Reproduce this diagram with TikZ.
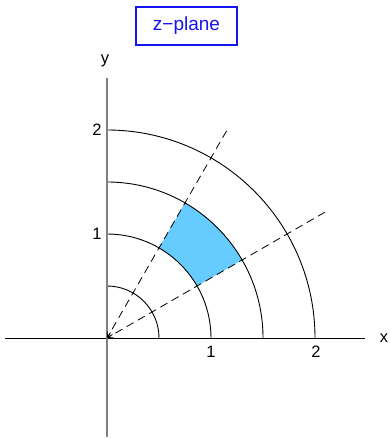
\documentclass[tikz,border=0pt]{standalone}
\usepackage{fontspec}
\setmainfont{Liberation Sans}
\usetikzlibrary{arrows.meta}
\definecolor{zfill}{RGB}{102,204,255}
\definecolor{zblue}{RGB}{20,20,240}
\definecolor{axgray}{RGB}{128,128,128}
\tikzset{
  circarc/.style={draw=black, line width=0.9pt},
  raydash/.style={draw=black, line width=0.8pt, dash pattern=on 8pt off 5pt, -{Straight Barb[length=5pt,width=6pt]}},
  ticklbl/.style={font=\fontsize{16.5}{18}\selectfont, inner sep=0pt},
  titlebox/.style={draw=zblue, line width=2pt, text=zblue, minimum width=101pt, minimum height=38pt, inner sep=0pt, font=\fontsize{19}{22}\selectfont}
}
\begin{document}
\begin{tikzpicture}[x=1pt,y=1pt]
\useasboundingbox (0,0) rectangle (389,438);
\node[titlebox] (title) at (186.5,412) {z\char"2212 plane};
\begin{scope}[shift={(107,100)}, x=104pt, y=104pt]
  \coordinate (O) at (0,0);
  \coordinate (xl) at (-0.981,0);
  \coordinate (xr) at (2.48,0);
  \coordinate (yb) at (0,-0.952);
  \coordinate (yt) at (0,2.50);
  \coordinate (d60) at (60:2.30);
  \coordinate (d30) at (30:2.42);
  % shaded sector
  \fill[zfill] (30:1) arc (30:60:1) -- (60:1.5) arc (60:30:1.5) -- cycle;
  % arcs
  \draw[circarc] (0.5,0) arc (0:90:0.5);
  \draw[circarc] (1,0) arc (0:90:1);
  \draw[circarc] (1.5,0) arc (0:90:1.5);
  \draw[circarc] (2,0) arc (0:90:2);
  % axes
  \draw[black, line width=0.9pt] (xl) -- (xr);
  \draw[axgray, line width=2pt] (yb) -- (yt);
  % dashed rays
  \draw[raydash] (d60) -- (O);
  \draw[raydash] (d30) -- (O);
  % labels
  \node[ticklbl] (lx) at (2.663,0) {x};
  \node[ticklbl] (ly) at (-0.02,2.66) {y};
  \node[ticklbl] (x1) at (1,-0.135) {1};
  \node[ticklbl] (x2) at (2.01,-0.135) {2};
  \node[ticklbl] (y1) at (-0.096,1.0) {1};
  \node[ticklbl] (y2) at (-0.096,2.0) {2};
\end{scope}
\end{tikzpicture}
\end{document}
